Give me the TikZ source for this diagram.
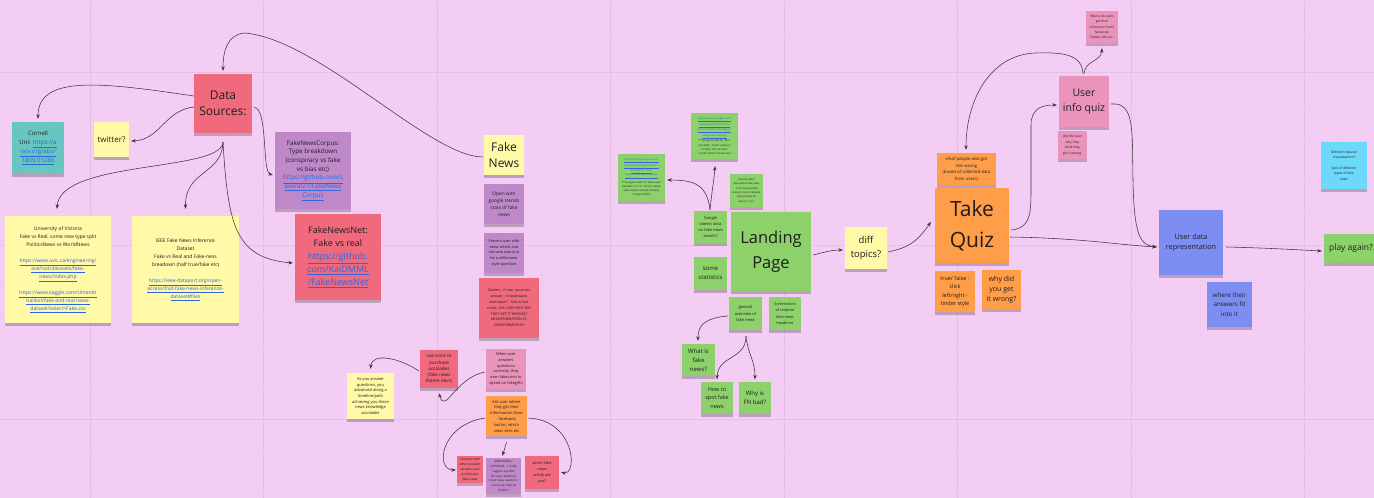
\documentclass[tikz,border=0pt]{standalone}
\usepackage{fontspec}
\setmainfont{Open Sans}
\usetikzlibrary{shadows,arrows.meta,calc}
\definecolor{bg}{HTML}{F3CDF3}
\definecolor{gridminor}{HTML}{EFC9F0}
\definecolor{gridmajor}{HTML}{E6BFE7}
\definecolor{nyellow}{HTML}{FFF9A8}
\definecolor{nred}{HTML}{F0697C}
\definecolor{npink}{HTML}{EA94BB}
\definecolor{npurple}{HTML}{BE88C9}
\definecolor{ngreen}{HTML}{8DD16A}
\definecolor{norange}{HTML}{FF9D48}
\definecolor{nteal}{HTML}{67C6C0}
\definecolor{nblue}{HTML}{7D8EF3}
\definecolor{ncyan}{HTML}{6CD8FA}
\definecolor{txt}{HTML}{1E1E1E}
\definecolor{linkblue}{HTML}{2F66DD}
\definecolor{arrowc}{HTML}{383838}
\newcommand\fs[2]{\fontsize{#1}{#2}\selectfont}
\newcommand\lk[1]{\textcolor{linkblue}{\underline{#1}}}
\tikzset{
  note/.style={draw=none, align=center, inner sep=1pt, text=txt,
    drop shadow={shadow xshift=0pt, shadow yshift=-2.5pt, opacity=0.22, fill=black}},
  conn/.style={draw=arrowc, line width=0.55pt, -{Stealth[length=4.5pt,width=3.5pt]}}
}
\newcommand\sticky[8]{\node[note, fill=#6, font=#7, minimum width={(#4)-(#2)}, minimum height={(#5)-(#3)}] (#1) at ({((#2)+(#4))/2},{((#3)+(#5))/2}) {#8};}
\begin{document}
\begin{tikzpicture}[x=1pt,y=-1pt]
\useasboundingbox (0,0) rectangle (1374,498);
\fill[bg] (0,0) rectangle (1374,498);
% grid
\foreach \i in {-2,...,37} {\draw[gridminor, line width=0.4pt] ({90+34.7*\i},0) -- ({90+34.7*\i},498);}
\foreach \i in {-2,...,12} {\draw[gridminor, line width=0.4pt] (0,{72+34.7*\i}) -- (1374,{72+34.7*\i});}
\foreach \i in {-1,...,7} {\draw[gridmajor, line width=0.5pt] ({90+173.5*\i},0) -- ({90+173.5*\i},498);}
\foreach \i in {-1,...,2} {\draw[gridmajor, line width=0.5pt] (0,{72+173.5*\i}) -- (1374,{72+173.5*\i});}

% ---------- data sources cluster ----------
\sticky{cornell}{12}{122}{64}{174}{nteal}{\fs{6}{9}}{Cornell\\Uni: \lk{https://a}\\\lk{rxiv.org/abs/}\\\lk{1809.01286}}
\sticky{twitter}{94}{122}{129}{157}{nyellow}{\fs{8}{11}}{twitter?}
\sticky{ds}{194}{74}{252}{133}{nred}{\fs{12}{16.5}}{Data\\Sources:}
\sticky{uvic}{5}{216}{111}{323}{nyellow}{\fs{5}{8}}{University of Victoria\\Fake vs Real, some new type split\\PoliticsNews vs WorldNews\\[8pt]\lk{https://www.uvic.ca/engineering/}\\\lk{ece/isot/datasets/fake-}\\\lk{news/index.php}\\[8pt]\lk{https://www.kaggle.com/clmentb}\\\lk{isaillon/fake-and-real-news-}\\\lk{dataset?select=Fake.csv}}
\sticky{ieee}{132}{216}{239}{323}{nyellow}{\fs{5}{8}}{IEEE Fake News Inference\\Dataset\\Fake vs Real and Fake-ness\\breadown (half true/fake etc)\\[8pt]\lk{https://ieee-dataport.org/open-}\\\lk{access/fnid-fake-news-inference-}\\\lk{dataset\#files}}
\sticky{corpus}{275}{132}{351}{209}{npurple}{\fs{6.3}{8.7}}{FakeNewsCorpus:\\Type breakdown\\(conspiracy vs fake\\vs bias etc)\\\lk{https://github.com/s}\\\lk{everal27/FakeNews}\\\lk{Corpus}}
\sticky{fnn}{295}{214}{381}{300}{nred}{\fs{9}{13}}{FakeNewsNet:\\Fake vs real\\\lk{https://github.}\\\lk{com/KaiDMML}\\\lk{/FakeNewsNet}}

% ---------- fake news column ----------
\sticky{fakenews}{484}{135}{524}{175}{nyellow}{\fs{12}{16}}{Fake\\News}
\sticky{trends}{484}{184}{524}{224}{npurple}{\fs{4.8}{7}}{Open with\\google trends\\stats of fake\\news}
\sticky{present}{484}{233}{524}{273}{npurple}{\fs{3.8}{5.6}}{Present user with\\news article and\\ask who wants to\\be a millionaire\\style question}
\sticky{outlets}{479}{278}{539}{338}{nred}{\fs{3.6}{5.8}}{Outlets - if user incorrect\\answer - in brainwash\\animation? - link to fact\\check. ASK USER WHY DID\\THEY GET IT WRONG?\\MISINFORMATION VS\\DISINFORMATION}
\sticky{coins}{420}{350}{458}{388}{nred}{\fs{4.6}{6.3}}{use coins to\\purchase\\accolades\\(fake news\\theme obvs)}
\sticky{when}{486}{349}{526}{389}{npink}{\fs{3.9}{5.7}}{When user\\answers\\questions\\correctly, they\\earn fakecoins to\\spend on fakegifts}
\sticky{asyou}{347}{373}{394}{419}{nyellow}{\fs{4}{5.6}}{As you answer\\questions, you\\advanced along a\\timeline/path\\achieving you these\\news knowledge\\accolades}
\sticky{askuser}{486}{396}{527}{436}{norange}{\fs{4}{5.8}}{Ask user where\\they get their\\information from\\- facebook,\\twitter, which\\news sites etc}
\sticky{compare}{457}{456}{483}{483}{nred}{\fs{3.2}{5}}{compare with\\other people's\\answers and\\profiles per\\fake news}
\sticky{additional}{486}{458}{521}{494}{npurple}{\fs{2.9}{4.7}}{ADDITIONAL/\\OPTIONAL - I could\\suggest a profile\\for users and their\\most news reactions\\- too much time on\\button?}
\sticky{which}{525}{456}{559}{489}{nred}{\fs{3.8}{5.8}}{which fake\\news\\article are\\you?}

% ---------- landing page cluster ----------
\sticky{tg}{691}{113}{738}{159}{ngreen}{\fs{2.6}{4.2}}{\lk{https://trends.google.com/t}\\\lk{rends/explore?date=2016-}\\\lk{01-01\%202021-10-01\&geo=}\\\lk{US\&q=fact-checking}\\** Google trends for "fact-\\checking" : shows spikes in\\October 2016 \& 2020\\- month before US elections}
\sticky{lg}{618}{154}{665}{201}{ngreen}{\fs{2.6}{4.2}}{\lk{https://trends.google.com/tr}\\\lk{ends/explore?date=2016-01-}\\\lk{01\%202021-10-01}\\\lk{\&geo=US\&q=fake\%20news}\\[2pt]** Google trends for "fake news"\\between 1/1/16 - 10/1/21 along\\with related searches (mainly\\Trump \& CNN)}
\sticky{ps}{730}{174}{763}{207}{ngreen}{\fs{2.6}{4.3}}{Provide stats/\\data about fake news\\- how many people\\share it, how it spreads,\\what people do\\about it, etc.?}
\sticky{gt}{694}{211}{727}{243}{ngreen}{\fs{4}{6}}{Google\\tweets data\\on fake news\\search?}
\sticky{lp}{731}{212}{811}{291}{ngreen}{\fs{16.5}{24.5}}{Landing\\Page}
\sticky{st}{694}{257}{727}{290}{ngreen}{\fs{6}{9}}{some\\statistics}
\sticky{go}{729}{297}{762}{330}{ngreen}{\fs{4}{6.5}}{general\\overview of\\fake news}
\sticky{ss}{769}{297}{801}{330}{ngreen}{\fs{3.8}{6.3}}{Screenshots\\of random\\fake news\\headlines}
\sticky{wf}{682}{344}{715}{376}{ngreen}{\fs{6}{9}}{What is\\fake\\news?}
\sticky{hs}{701}{382}{733}{414}{ngreen}{\fs{5.5}{8.5}}{How to\\spot fake\\news}
\sticky{wb}{739}{382}{771}{414}{ngreen}{\fs{6}{9.5}}{Why is\\FN bad?}
\sticky{dt}{845}{227}{887}{269}{nyellow}{\fs{9.5}{14}}{diff\\topics?}

% ---------- quiz cluster ----------
\sticky{tq}{935}{188}{1009}{263}{norange}{\fs{21}{31}}{Take\\Quiz}
\sticky{xp}{937}{153}{996}{185}{norange}{\fs{4.3}{6.5}}{x\%of people also got\\this wrong\\(based of collected data\\from users)}
\sticky{tf}{935}{271}{975}{312}{norange}{\fs{5.5}{8.3}}{true/ false -\\click\\left/right -\\tinder style}
\sticky{wy}{982}{270}{1021}{309}{norange}{\fs{7}{10}}{why did\\you get\\it wrong?}
\sticky{ui}{1059}{76}{1109}{127}{npink}{\fs{10.5}{15}}{User\\info quiz}
\sticky{wu}{1086}{11}{1118}{43}{npink}{\fs{3.2}{5.3}}{Where do users\\get their\\infomaion from?\\facebook,\\Twitter, bbc etc.}
\sticky{au}{1058}{131}{1087}{159}{npink}{\fs{3.3}{5.5}}{Ask the user\\why they\\think they\\got it wrong.}
\sticky{ud}{1159}{210}{1223}{275}{nblue}{\fs{7.3}{10.7}}{User data\\representation}
\sticky{wt}{1207}{282}{1252}{327}{nblue}{\fs{6.3}{9.5}}{where their\\answers fit\\into it}
\sticky{pa}{1324}{234}{1378}{263}{ngreen}{\fs{8.5}{12}}{play again?}
\sticky{cy}{1321}{142}{1367}{189}{ncyan}{\fs{3.3}{5.4}}{Different dataset\\visualizations?\\[5pt]Split of different\\types of fake\\news}

% ---------- connectors ----------
\draw[conn] ($(ds.west)+(0,-7.5)$) .. controls (100,82) and (38,75) .. ($(cornell.north)+(0,-3)$);
\draw[conn] ($(ds.west)+(0,3.5)$) .. controls (165,110) and (160,140) .. ($(twitter.east)+(2,1.5)$);
\draw[conn] ($(ds.south)+(0,9)$) .. controls (222,172) and (60,160) .. ($(uvic.north)+(-1,-7)$);
\draw[conn] ($(ds.south)+(0,9)$) .. controls (222,175) and (185,170) .. ($(ieee.north)+(0,-7)$);
\draw[conn] ($(ds.south)+(0,9)$) .. controls (228,225) and (235,258) .. ($(fnn.west)+(-2,6)$);
\draw[conn] ($(ds.east)+(2,4)$) .. controls (268,108) and (262,172) .. ($(corpus.west)+(-2,4.5)$);
\draw[conn] ($(fakenews.west)+(-1,2)$) .. controls (430,157) and (320,40) .. (245,33) .. controls (228,34) and (223,50) .. ($(ds.north)+(0,-3)$);

\draw[conn] ($(coins.west)+(-1,2)$) .. controls (400,358) and (372,352) .. ($(asyou.north)+(0,-4)$);
\draw[conn] ($(when.west)+(-1,3)$) .. controls (455,378) and (445,415) .. ($(coins.south)+(0,5)$);
\draw[conn] ($(askuser.west)+(-1,2)$) .. controls (440,425) and (435,470) .. ($(compare.west)+(-1,0.5)$);
\draw[conn] ($(askuser.south)+(0,6)$) -- ($(additional.north)+(-1,-2)$);
\draw[conn] ($(askuser.east)+(1,2)$) .. controls (575,420) and (578,475) .. ($(which.east)+(2,0)$);

\draw[conn] ($(gt.north)+(-0.5,-1)$) .. controls (712,190) and (714,180) .. ($(tg.south)+(0.5,7)$);
\draw[conn] ($(gt.north)+(-0.5,-1)$) .. controls (707,185) and (695,180) .. ($(lg.east)+(2,2.5)$);
\draw[conn] ($(lp.east)+(2,3.5)$) .. controls (825,252) and (832,250) .. ($(dt.west)+(-2,2)$);
\draw[conn] ($(go.west)+(-1,2.5)$) .. controls (705,318) and (698,325) .. ($(wf.north)+(-0.5,-3)$);
\draw[conn] ($(go.south)+(0.5,6)$) .. controls (746,360) and (718,355) .. ($(hs.north)+(0,-2.5)$);
\draw[conn] ($(go.south)+(0.5,6)$) .. controls (748,355) and (755,360) .. ($(wb.north)+(0,-2.5)$);
\draw[conn] ($(dt.east)+(1,4)$) .. controls (905,248) and (915,245) .. ($(tq.west)+(-4,-3.5)$);

\draw[conn] ($(tq.east)+(1,11.5)$) .. controls (1080,238) and (1120,245) .. ($(ud.west)+(-2,4.5)$);
\draw[conn] ($(tq.east)+(2,4.5)$) .. controls (1030,228) and (1031,215) .. (1031,190) -- (1031,125) .. controls (1031,110) and (1040,105) .. ($(ui.west)+(-2,3.5)$);
\draw[conn] ($(ui.north)+(0,-2)$) .. controls (1085,60) and (1101,62) .. ($(wu.south)+(0,5)$);
\draw[conn] ($(ui.north)+(-1,-2)$) .. controls (1082,55) and (1065,52) .. (1035,53) .. controls (990,55) and (966,100) .. ($(xp.north)+(-0.5,-3)$);
\draw[conn] ($(ui.east)+(2,2.5)$) .. controls (1135,102) and (1132,130) .. (1133,180) .. controls (1134,235) and (1140,245) .. ($(ud.west)+(-2,4.5)$);
\draw[conn] ($(ud.east)+(3,4.5)$) .. controls (1270,248) and (1300,250) .. ($(pa.west)+(-2,2.5)$);
\end{tikzpicture}
\end{document}
